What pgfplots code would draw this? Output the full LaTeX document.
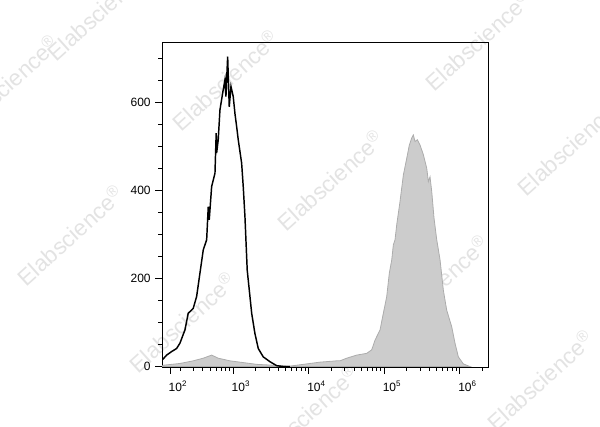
\documentclass[border=0pt]{standalone}
\usepackage{fontspec}
\setmainfont{Liberation Sans}
\usepackage{pgfplots}
\pgfplotsset{compat=1.18}

% histogram counts per channel (x = fluorescence intensity, log scale)
\pgfplotstableread{
x y
115.9 15
132.4 26
154.2 34
179.5 41
198.6 53
231.2 83
255.9 121
297.8 132
330.4 159
365.6 212
404.6 265
448.7 288
471.0 363
485.3 333
522.4 409
578.1 439
600.0 530
608.1 485
638.3 515
673.0 583
731.1 621
783.4 651
807.2 613
851.1 704
893.3 590
941.9 636
1009 613
1062 575
1119 545
1175 515
1303 462
1368 409
1442 340
1545 219
1770 121
1954 75
2163 41
2518 22
3090 11
3793 2
4634 0
5689 0
}\unstained

\pgfplotstableread{
x y
115.0 0
119.4 3
198.6 7
297.8 13
404.6 19
522.4 26
638.3 19
912.0 13
1368 9
2061 5
3420 3
5689 1
8531 5
14190 10
23600 13
26120 13
32060 19
43450 26
59020 30
68710 38
76030 60
88510 83
97950 121
108600 159
117500 212
126500 242
132800 276
139900 288
147300 322
162900 375
180300 435
200000 473
216300 503
232800 519
244300 526
257600 511
276100 515
299900 503
331900 481
368100 450
386400 420
406400 431
428500 397
459200 337
498900 288
552100 242
609500 174
676100 128
788900 90
871000 53
963900 22
1122000 6
1377000 0
}\stained

\begin{document}
\begin{tikzpicture}
\path[use as bounding box] (-121.5pt,-45pt) rectangle (328.5pt,275.25pt);

% watermarks
\begin{scope}[every node/.style={rotate=42, text=gray!22, font=\fontsize{17}{17}\selectfont}]
\node at (-46.5pt,267.75pt) {Elabscience\textsuperscript{®}};
\node at (47.25pt,215.25pt) {Elabscience\textsuperscript{®}};
\node at (237pt,245.25pt) {Elabscience\textsuperscript{®}};
\node at (-117.75pt,211.5pt) {Elabscience\textsuperscript{®}};
\node at (126pt,140.25pt) {Elabscience\textsuperscript{®}};
\node at (306pt,166.5pt) {Elabscience\textsuperscript{®}};
\node at (-69pt,99pt) {Elabscience\textsuperscript{®}};
\node at (204.75pt,61.5pt) {Elabscience\textsuperscript{®}};
\node at (15pt,33.75pt) {Elabscience\textsuperscript{®}};
\node at (107.25pt,-36pt) {Elabscience\textsuperscript{®}};
\node at (283.5pt,-9.75pt) {Elabscience\textsuperscript{®}};
\end{scope}

\begin{axis}[
    scale only axis,
    width=244.5pt, height=243.75pt,
    xmode=log,
    xmin=115, xmax=2.38e6,
    ymin=-1, ymax=737,
    axis line style={line width=0.6pt},
    tick pos=left,
    tick align=outside,
    major tick length=5pt,
    minor tick length=3pt,
    every tick/.style={black, line width=0.6pt},
    xtick={1000,10000,100000,1000000},
    xticklabels={10\textsuperscript{3},10\textsuperscript{4},10\textsuperscript{5},10\textsuperscript{6}},
    extra x ticks={146.6},
    extra x tick labels={10\textsuperscript{2}},
    minor xtick={200,300,400,500,600,700,800,900,2000,3000,4000,5000,6000,7000,8000,9000,20000,30000,40000,50000,60000,70000,80000,90000,200000,300000,400000,500000,600000,700000,800000,900000,2000000},
    xticklabel style={font=\fontsize{9}{10}\selectfont, xshift=6pt, yshift=-2pt},
    ytick={0,200,400,600},
    minor ytick={50,100,150,250,300,350,450,500,550,650,700},
    yticklabel style={font=\fontsize{9}{10}\selectfont},
    /pgf/number format/assume math mode=true,
    clip=true,
]
\addplot[fill=gray!40, draw=gray!65, line width=0.6pt] table[x=x, y=y] {\stained} \closedcycle;
\addplot[black, line width=1.1pt] table[x=x, y=y] {\unstained};
\end{axis}
\end{tikzpicture}
\end{document}
